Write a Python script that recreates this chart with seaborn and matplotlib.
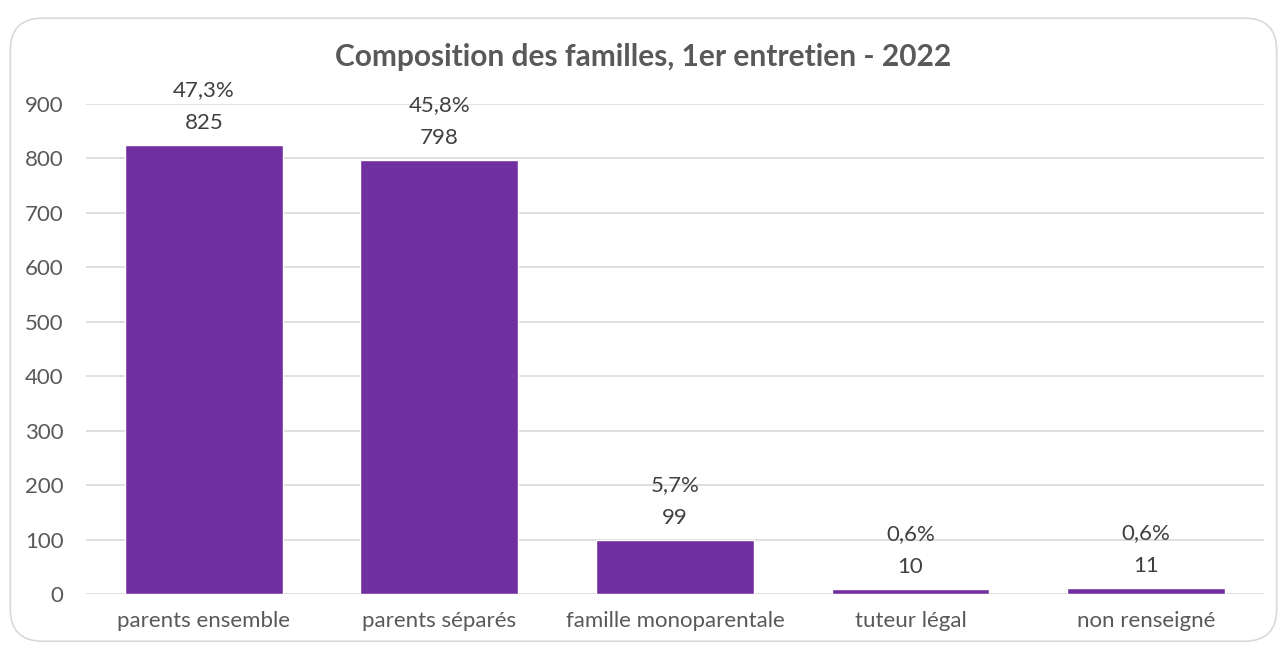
import pandas as pd
import seaborn as sns
import matplotlib.pyplot as plt
from matplotlib.patches import FancyBboxPatch

categories = ['parents ensemble', 'parents séparés', 'famille monoparentale', 'tuteur légal', 'non renseigné']
counts = [825, 798, 99, 10, 11]
percents = ['47,3%', '45,8%', '5,7%', '0,6%', '0,6%']

df = pd.DataFrame({'categorie': categories, 'nombre': counts})

sns.set_style('white')
plt.rcParams['font.family'] = ['Lato', 'DejaVu Sans']

fig = plt.figure(figsize=(12.87, 6.49), dpi=100)
ax = fig.add_axes([0.0668, 0.0847, 0.9152, 0.7551])

sns.barplot(data=df, x='categorie', y='nombre', color='#7030A0', width=0.67, saturation=1, ax=ax)

ax.set_ylim(0, 900)
ax.set_yticks(range(0, 901, 100))
ax.yaxis.grid(True, color='#D9D9D9', linewidth=1.2)
ax.set_axisbelow(True)
for s in ax.spines.values():
    s.set_visible(False)
ax.tick_params(axis='both', length=0, labelsize=16, labelcolor='#595959')
ax.tick_params(axis='y', pad=16)
ax.tick_params(axis='x', pad=12)
ax.set_xlabel('')
ax.set_ylabel('')

# data labels: percentage on top of count
for i, (n, p) in enumerate(zip(counts, percents)):
    ax.annotate(f'{p}\n{n}', (i, n), xytext=(0, 8.5), textcoords='offset points',
                ha='center', va='bottom', fontsize=16, color='#404040', linespacing=1.8)

fig.text(0.5, 0.912, 'Composition des familles, 1er entretien - 2022', ha='center', va='center',
         fontsize=21.5, fontweight='bold', color='#595959')

# rounded chart border
border = FancyBboxPatch((0.008, 0.012), 0.984, 0.96, boxstyle='round,pad=0,rounding_size=0.025',
                        transform=fig.transFigure, facecolor='none', edgecolor='#D9D9D9', linewidth=1.2,
                        mutation_aspect=1287 / 649)
fig.patches.append(border)

fig.savefig('out.png', dpi=100)
